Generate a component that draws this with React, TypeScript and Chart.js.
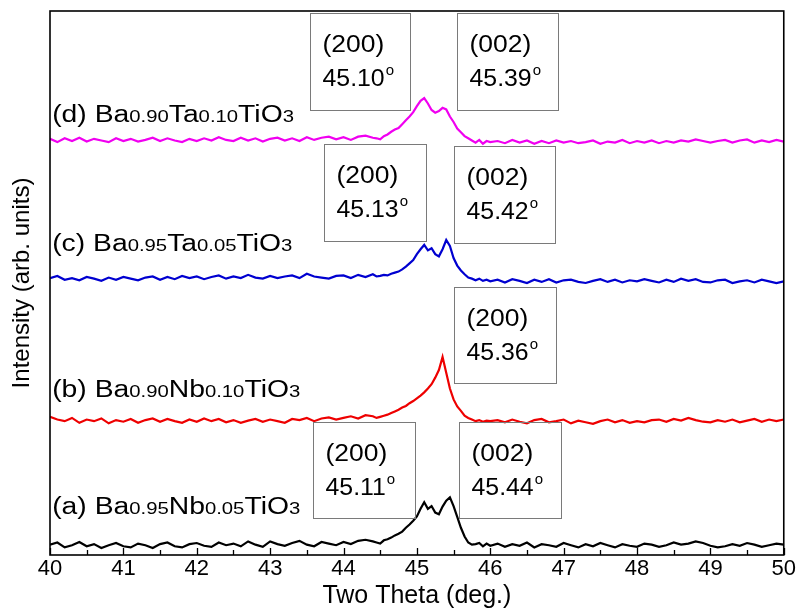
import React, { useEffect, useRef } from "react";
import { Chart, registerables } from "chart.js";

Chart.register(...registerables);

// Two-theta grid (deg.)
const twoTheta = [
  40.0, 40.1, 40.2, 40.3, 40.4, 40.5, 40.6, 40.7, 40.8, 40.9,
  41.0, 41.1, 41.2, 41.3, 41.4, 41.5, 41.6, 41.7, 41.8, 41.9,
  42.0, 42.1, 42.2, 42.3, 42.4, 42.5, 42.6, 42.7, 42.8, 42.9,
  43.0, 43.1, 43.2, 43.3, 43.4, 43.5, 43.6, 43.7, 43.8, 43.9,
  44.0, 44.1, 44.2, 44.3, 44.4,
  44.45, 44.5, 44.55, 44.6, 44.65, 44.7, 44.75, 44.8, 44.85, 44.9,
  44.95, 45.0, 45.05, 45.1, 45.15, 45.2, 45.25, 45.3, 45.35, 45.4,
  45.45, 45.5, 45.55, 45.6, 45.65, 45.7, 45.75, 45.8, 45.85, 45.9,
  45.95, 46.0,
  46.1, 46.2, 46.3, 46.4, 46.5, 46.6, 46.7, 46.8, 46.9, 47.0,
  47.1, 47.2, 47.3, 47.4, 47.5, 47.6, 47.7, 47.8, 47.9, 48.0,
  48.1, 48.2, 48.3, 48.4, 48.5, 48.6, 48.7, 48.8, 48.9, 49.0,
  49.1, 49.2, 49.3, 49.4, 49.5, 49.6, 49.7, 49.8, 49.9, 50.0,
];

// (a) Ba0.95Nb0.05TiO3 — black
const seriesA = [
  1.9, 2.3, 1.4, 1.8, 2.4, 1.6, 2.0, 1.3, 1.8, 2.2,
  1.6, 1.4, 2.1, 1.8, 1.3, 2.0, 2.3, 1.6, 1.4, 2.0,
  2.2, 1.7, 1.5, 2.3, 1.8, 2.1, 1.6, 2.5, 1.9, 1.5,
  2.5, 2.0, 1.7, 2.2, 2.6, 1.9, 1.6, 2.4, 2.1, 1.8,
  2.4, 2.0, 2.6, 2.8, 2.5,
  2.3, 2.1, 2.7, 2.9, 3.2, 3.6, 3.9, 4.3, 5.0, 5.6,
  6.3, 7.1, 8.5, 9.7, 8.5, 9.0, 7.8, 7.5, 8.9, 10.0,
  10.6, 9.0, 7.0, 5.0, 3.4, 2.3, 1.9, 2.0, 2.2, 1.6,
  2.1, 1.7,
  2.1, 1.5, 2.0, 1.7, 2.3, 1.4, 2.0, 1.8, 1.5, 2.2,
  1.8, 1.4, 2.0, 1.6, 2.2, 1.8, 1.4, 2.0, 1.7, 1.5,
  2.1, 1.9, 1.5, 1.8, 2.3, 1.9, 2.1, 2.5, 2.2, 1.7,
  1.4, 1.6, 2.0, 1.7, 2.2, 1.9, 1.5, 1.8, 2.1, 1.9,
];

// (b) Ba0.90Nb0.10TiO3 — red
const seriesB = [
  25.4, 24.9, 24.6, 25.2, 24.3, 24.9, 24.6, 25.1, 24.2, 24.8,
  24.5, 25.0, 24.3, 24.8, 25.1, 24.5, 25.0, 24.6, 24.3, 24.9,
  24.5, 25.1, 24.6, 25.0, 24.4, 24.8, 24.3, 24.7, 25.0, 24.5,
  24.9, 24.6, 24.3, 25.0, 24.8, 25.2, 24.6, 25.1, 25.3, 24.9,
  25.2, 25.5, 25.1, 25.7, 25.5,
  25.2, 25.4, 25.6, 25.8, 26.1, 26.4, 26.7, 27.1, 27.4, 27.9,
  28.3, 28.8, 29.3, 29.9, 30.6, 31.4, 32.6, 34.0, 36.4, 33.5,
  30.6, 28.6, 27.3, 26.5, 25.6, 25.2, 24.9, 24.6, 24.8, 24.5,
  24.7, 24.6,
  24.8, 24.4, 24.9, 24.5, 24.2, 24.8, 25.0, 24.4, 24.6, 24.9,
  24.2, 24.7, 24.4, 24.1, 24.6, 24.9, 24.4, 24.8, 24.3, 24.6,
  24.4, 24.8, 24.9, 24.5, 25.0, 24.7, 25.2, 24.8, 24.5, 24.4,
  24.8, 24.5, 24.9, 24.4, 24.7, 25.0, 24.5, 24.9, 24.6, 24.9,
];

// (c) Ba0.95Ta0.05TiO3 — blue
const seriesC = [
  50.9, 51.3, 50.6, 50.9, 50.5, 51.1, 50.8, 50.4, 51.0, 50.6,
  51.1, 50.8, 50.5, 51.0, 51.2, 50.6, 51.1, 50.7, 51.3, 50.9,
  51.2, 50.7, 51.1, 51.4, 50.8, 51.2, 50.9, 51.5, 51.0, 50.8,
  51.3, 50.9, 51.2, 51.4, 50.9, 51.7, 51.2, 51.0, 50.8, 51.3,
  51.4, 50.9, 51.5, 51.1, 51.6,
  51.2, 51.3, 51.5, 51.4, 51.7, 51.9, 52.1, 52.5, 53.0, 53.6,
  54.2, 55.3, 56.2, 57.0, 56.0, 56.4, 55.3, 54.9, 56.2, 57.9,
  56.8, 54.6, 53.2, 52.3, 51.6, 51.0, 50.8, 50.5, 50.8, 50.4,
  50.6, 50.3,
  50.6, 50.1, 50.7, 50.4, 50.0, 50.6, 50.2, 50.7, 50.1, 50.5,
  50.6, 50.2, 50.0, 50.4, 50.7, 50.2, 50.6, 50.1, 50.5, 50.3,
  50.7, 50.4, 50.1, 50.6, 50.2, 50.8, 50.4, 50.7, 50.2, 50.1,
  50.5, 50.6, 50.0, 50.3, 50.5, 50.1, 50.6, 50.3, 50.0, 50.3,
];

// (d) Ba0.90Ta0.10TiO3 — magenta
const seriesD = [
  76.5, 75.9, 76.6, 76.1, 76.7, 76.0, 76.5, 76.2, 75.9, 76.6,
  76.1, 76.5, 76.0, 76.3, 76.7, 76.1, 76.6, 76.2, 75.9, 76.5,
  76.1, 76.6, 76.2, 76.8, 76.3, 76.1, 76.7, 76.2, 76.6, 76.0,
  76.5, 76.7, 76.2, 76.6, 76.1, 76.8, 76.3, 76.7, 76.9, 76.4,
  76.8, 76.3, 76.9, 77.1, 76.7,
  76.6, 76.4, 77.0, 77.3, 77.8, 78.2, 78.5, 79.2, 79.9, 80.6,
  81.4, 82.5, 83.5, 84.0, 83.0, 81.8, 81.3, 81.6, 82.2, 81.9,
  80.6, 79.6, 78.4, 77.7, 77.0, 76.6, 76.2, 75.8, 76.3, 75.6,
  76.1, 75.9,
  76.1, 75.7, 76.3, 75.8, 76.2, 75.6, 76.1, 75.7, 76.2, 75.8,
  76.1, 75.7, 75.9, 76.2, 75.6, 76.0, 75.8, 76.3, 75.7, 76.1,
  75.8, 76.2, 75.7, 76.1, 75.8, 76.2, 76.0, 76.4, 76.1, 75.8,
  76.1, 76.3, 75.8, 76.2, 76.4, 75.8, 76.2, 75.9, 76.3, 76.0,
];

const seriesColors = ["#000000", "#ee0000", "#0000d0", "#f000f0"];

const majorTicks = [40, 41, 42, 43, 44, 45, 46, 47, 48, 49, 50];
const minorTicks = [40.5, 41.5, 42.5, 43.5, 44.5, 45.5, 46.5, 47.5, 48.5, 49.5];

// Sample labels (segments: [text, isSubscript])
const labelA: [string, boolean][] = [["(a) Ba", false], ["0.95", true], ["Nb", false], ["0.05", true], ["TiO", false], ["3", true]];
const labelB: [string, boolean][] = [["(b) Ba", false], ["0.90", true], ["Nb", false], ["0.10", true], ["TiO", false], ["3", true]];
const labelC: [string, boolean][] = [["(c) Ba", false], ["0.95", true], ["Ta", false], ["0.05", true], ["TiO", false], ["3", true]];
const labelD: [string, boolean][] = [["(d) Ba", false], ["0.90", true], ["Ta", false], ["0.10", true], ["TiO", false], ["3", true]];
const sampleLabels = [labelA, labelB, labelC, labelD];
const labelX = [40.03, 40.03, 40.03, 40.03];
const labelBaseY = [7.5, 29.0, 55.9, 79.6];

// Peak annotation boxes (data coordinates)
const boxHkl = ["(200)", "(002)", "(200)", "(002)", "(200)", "(200)", "(002)"];
const boxAngle = ["45.10", "45.39", "45.13", "45.42", "45.36", "45.11", "45.44"];
const boxX0 = [43.54, 45.54, 43.74, 45.51, 45.51, 43.59, 45.58];
const boxX1 = [44.90, 46.93, 45.12, 46.88, 46.90, 44.98, 46.97];
const boxYTop = [99.6, 99.6, 75.6, 75.2, 49.3, 24.4, 24.4];
const boxYBottom = [81.8, 81.8, 57.7, 57.4, 31.6, 6.8, 6.8];

const FONT = "Arial, 'Liberation Sans', sans-serif";

function drawStretched(ctx: any, text: string, x: number, y: number, sx: number) {
  ctx.save();
  ctx.translate(x, y);
  ctx.scale(sx, 1);
  ctx.fillText(text, 0, 0);
  ctx.restore();
  return ctx.measureText(text).width * sx;
}

const overlayPlugin = {
  id: "overlay",
  afterDraw(chart: any) {
    const { ctx, chartArea: ca, scales } = chart;
    const xs = scales.x;
    const ys = scales.y;
    ctx.save();

    // frame
    ctx.strokeStyle = "#000";
    ctx.lineWidth = 1.6;
    ctx.strokeRect(ca.left, ca.top, ca.right - ca.left, ca.bottom - ca.top);

    // inward ticks
    ctx.lineWidth = 1.3;
    ctx.beginPath();
    majorTicks.forEach((v) => {
      const px = Math.round(xs.getPixelForValue(v)) + 0.5;
      ctx.moveTo(px, ca.bottom);
      ctx.lineTo(px, ca.bottom - 7);
    });
    minorTicks.forEach((v) => {
      const px = Math.round(xs.getPixelForValue(v)) + 0.5;
      ctx.moveTo(px, ca.bottom);
      ctx.lineTo(px, ca.bottom - 5);
    });
    ctx.stroke();

    // annotation boxes
    ctx.lineWidth = 1;
    ctx.strokeStyle = "#7a7a7a";
    ctx.fillStyle = "#000";
    ctx.textBaseline = "middle";
    ctx.textAlign = "left";
    boxHkl.forEach((hkl, i) => {
      const x0 = Math.round(xs.getPixelForValue(boxX0[i])) + 0.5;
      const x1 = Math.round(xs.getPixelForValue(boxX1[i])) + 0.5;
      const y0 = Math.round(ys.getPixelForValue(boxYTop[i])) + 0.5;
      const y1 = Math.round(ys.getPixelForValue(boxYBottom[i])) + 0.5;
      ctx.strokeRect(x0, y0, x1 - x0, y1 - y0);
      ctx.font = `23px ${FONT}`;
      drawStretched(ctx, hkl, x0 + 12, y0 + 32, 1.15);
      const w = drawStretched(ctx, boxAngle[i], x0 + 12, y0 + 66, 1.08);
      ctx.font = `15px ${FONT}`;
      ctx.fillText("o", x0 + 13 + w, y0 + 57);
    });

    // sample labels
    ctx.textBaseline = "alphabetic";
    sampleLabels.forEach((segs, i) => {
      let x = xs.getPixelForValue(labelX[i]);
      const y = ys.getPixelForValue(labelBaseY[i]);
      segs.forEach(([t, sub]) => {
        ctx.font = sub ? `16.5px ${FONT}` : `23px ${FONT}`;
        x += drawStretched(ctx, t, x, y, 1.23);
      });
    });

    ctx.restore();
  },
};

export default function App() {
  const canvasRef = useRef<HTMLCanvasElement | null>(null);

  useEffect(() => {
    if (!canvasRef.current) return;
    const all = [seriesA, seriesB, seriesC, seriesD];
    const chart = new Chart(canvasRef.current, {
      type: "line",
      data: {
        datasets: all.map((s, k) => ({
          data: twoTheta.map((x, i) => ({ x, y: s[i] })),
          borderColor: seriesColors[k],
          borderWidth: 2.2,
          pointRadius: 0,
          tension: 0,
          fill: false,
        })),
      },
      options: {
        animation: false,
        responsive: false,
        devicePixelRatio: 1,
        layout: { padding: { top: 11, right: 0, left: 0, bottom: 0 } },
        plugins: { legend: { display: false }, tooltip: { enabled: false } },
        scales: {
          x: {
            type: "linear",
            min: 40,
            max: 50,
            ticks: { stepSize: 1, color: "#000", font: { size: 22, family: FONT }, padding: 1 },
            grid: { display: false, drawTicks: false },
            border: { display: false },
            title: {
              display: true,
              text: "Two Theta (deg.)",
              color: "#000",
              font: { size: 25, family: FONT },
              padding: { top: 0, bottom: 4 },
            },
            afterFit: (s: any) => {
              s.height = 60;
            },
          },
          y: {
            type: "linear",
            min: 0,
            max: 100,
            ticks: { display: false },
            grid: { display: false, drawTicks: false },
            border: { display: false },
            title: {
              display: true,
              text: "Intensity (arb. units)",
              color: "#000",
              font: { size: 24, family: FONT },
              padding: { top: 8, bottom: 0 },
            },
            afterFit: (s: any) => {
              s.width = 50;
            },
          },
        },
      },
      plugins: [overlayPlugin],
    } as any);
    return () => chart.destroy();
  }, []);

  return (
    <div style={{ position: "fixed", left: 0, top: 0, width: 797, height: 615, background: "#fff" }}>
      <canvas ref={canvasRef} width={797} height={615} />
    </div>
  );
}
